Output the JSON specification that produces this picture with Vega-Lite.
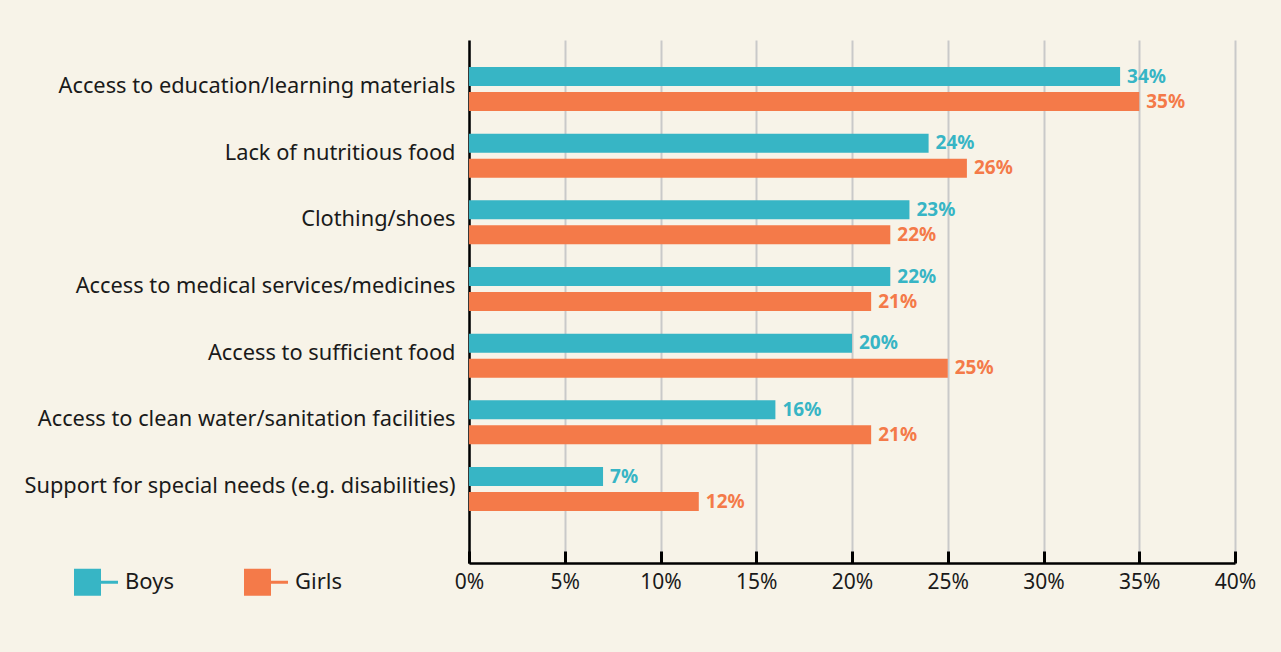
{
  "$schema": "https://vega.github.io/schema/vega-lite/v6.json",
  "autosize": {"type": "none"},
  "padding": {"left": 469, "top": 40, "right": 46, "bottom": 89},
  "width": 766,
  "height": 523,
  "background": "#F7F3E8",
  "config": {
    "font": "Noto Sans",
    "view": {"stroke": null},
    "axis": {"labelFont": "Noto Sans", "labelColor": "#1a1a1a", "labelFontSize": 21}
  },
  "data": {
    "values": [
      {"need": "Access to education/learning materials", "group": "Boys", "value": 34, "label": "34%"},
      {"need": "Access to education/learning materials", "group": "Girls", "value": 35, "label": "35%"},
      {"need": "Lack of nutritious food", "group": "Boys", "value": 24, "label": "24%"},
      {"need": "Lack of nutritious food", "group": "Girls", "value": 26, "label": "26%"},
      {"need": "Clothing/shoes", "group": "Boys", "value": 23, "label": "23%"},
      {"need": "Clothing/shoes", "group": "Girls", "value": 22, "label": "22%"},
      {"need": "Access to medical services/medicines", "group": "Boys", "value": 22, "label": "22%"},
      {"need": "Access to medical services/medicines", "group": "Girls", "value": 21, "label": "21%"},
      {"need": "Access to sufficient food", "group": "Boys", "value": 20, "label": "20%"},
      {"need": "Access to sufficient food", "group": "Girls", "value": 25, "label": "25%"},
      {"need": "Access to clean water/sanitation facilities", "group": "Boys", "value": 16, "label": "16%"},
      {"need": "Access to clean water/sanitation facilities", "group": "Girls", "value": 21, "label": "21%"},
      {"need": "Support for special needs (e.g. disabilities)", "group": "Boys", "value": 7, "label": "7%"},
      {"need": "Support for special needs (e.g. disabilities)", "group": "Girls", "value": 12, "label": "12%"}
    ]
  },
  "encoding": {
    "y": {
      "field": "need", "type": "nominal", "sort": null,
      "scale": {"paddingInner": 0.34, "paddingOuter": 0.5925, "align": 0.342},
      "axis": {"title": null, "ticks": false, "domainColor": "#000000", "domainWidth": 2.5, "labelPadding": 14, "labelLimit": 600, "grid": false, "labelFont": "Noto Sans", "labelFontSize": 21.8, "labelOffset": -3}
    },
    "yOffset": {"field": "group", "type": "nominal", "sort": ["Boys", "Girls"], "scale": {"paddingInner": 0.24, "paddingOuter": 0}},
    "x": {
      "field": "value", "type": "quantitative",
      "scale": {"domain": [0, 40], "nice": false},
      "axis": {
        "title": null, "values": [0, 5, 10, 15, 20, 25, 30, 35, 40],
        "labelExpr": "datum.value + '%'",
        "grid": true, "gridColor": "#C9C9C9", "gridWidth": 2,
        "domainColor": "#000000", "domainWidth": 2.5,
        "tickColor": "#000000", "tickWidth": 3, "tickSize": -12,
        "labelPadding": 20, "labelFlush": false
      }
    },
    "color": {
      "field": "group", "type": "nominal",
      "scale": {"domain": ["Boys", "Girls"], "range": ["#37B5C5", "#F47A49"]},
      "legend": {
        "title": null, "orient": "none", "direction": "horizontal",
        "legendX": -395, "legendY": 520, "padding": 0,
        "symbolType": "M-1,-0.614H0.227V0.614H-1Z M0.227,-0.07H1V0.07H0.227Z",
        "symbolSize": 1936, "symbolStrokeWidth": 0, "symbolOpacity": 1,
        "labelFontSize": 22, "labelFont": "Noto Sans", "labelColor": "#1a1a1a",
        "labelOffset": 7, "columnPadding": 70
      }
    }
  },
  "layer": [
    {"mark": {"type": "bar"}},
    {
      "mark": {"type": "text", "align": "left", "baseline": "middle", "dx": 7, "fontSize": 19, "fontWeight": "bold", "font": "Noto Sans"},
      "encoding": {"text": {"field": "label", "type": "nominal"}, "color": {"field": "group", "type": "nominal", "legend": null}}
    }
  ]
}
